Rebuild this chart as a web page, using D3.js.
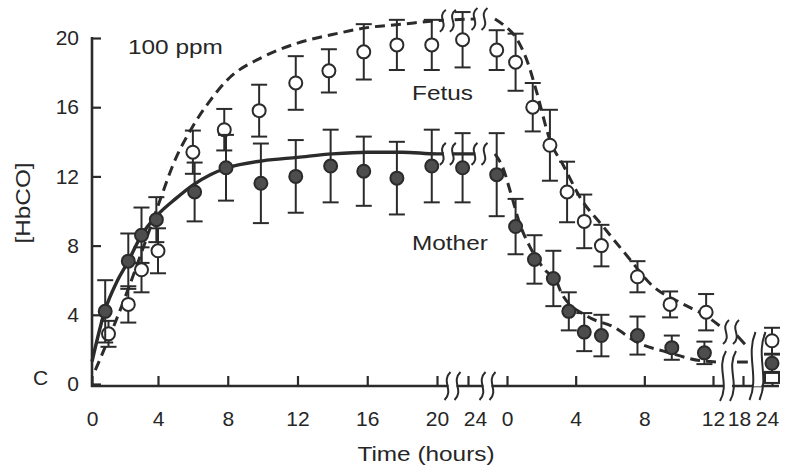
<!DOCTYPE html>
<html>
<head>
<meta charset="utf-8">
<script src="https://cdn.jsdelivr.net/npm/d3@7"></script>
<style>
  body { margin: 0; background: #fff; }
  svg { display: block; font-family: "Liberation Sans", Arial, sans-serif; }
  .axis text { font-family: "Liberation Sans", Arial, sans-serif; font-size: 21px; fill: #262626; }
  .axis line { stroke: #2b2b2b; stroke-width: 2.2; }
  .label { font-size: 21px; fill: #262626; }
</style>
</head>
<body>
<div id="chart"></div>
<script>
// values: t in hours, [HbCO] in %
const expTicks = [0, 4, 8, 12, 16, 20, 24];
const recTicks = [0, 4, 8, 12, 18, 24];
const yTicks = [0, 4, 8, 12, 16, 20];

// measured points: [t, mean, sd]
const motherExposure = [
  [0.8, 4.2, 1.8], [2.2, 7.1, 1.6], [3.0, 8.6, 1.6], [3.9, 9.5, 1.3], [6.1, 11.1, 1.7],
  [7.9, 12.5, 1.9], [9.9, 11.6, 2.3], [11.9, 12.0, 2.1], [13.9, 12.6, 2.1], [15.8, 12.3, 2.0],
  [17.7, 11.9, 2.1], [19.7, 12.6, 2.1], [23.3, 12.5, 2.0]
];
const motherRecovery = [
  [-0.6, 12.1, 2.4], [0.5, 9.1, 1.6], [1.6, 7.2, 1.4], [2.7, 6.1, 1.6], [3.6, 4.2, 1.1],
  [4.5, 3.0, 1.1], [5.5, 2.8, 1.2], [7.6, 2.8, 1.1], [9.6, 2.1, 0.7], [11.5, 1.8, 0.65],
  [24, 1.2, 0.5]
];
const fetusExposure = [
  [1.0, 2.9, 0.75], [2.2, 4.6, 1.05], [3.0, 6.6, 1.3], [4.0, 7.7, 1.3], [6.0, 13.4, 1.25],
  [7.8, 14.7, 1.2], [9.8, 15.8, 1.5], [11.9, 17.4, 1.55], [13.8, 18.1, 1.25], [15.8, 19.2, 1.6],
  [17.7, 19.6, 1.45], [19.7, 19.6, 1.45], [23.3, 19.9, 1.6]
];
const fetusRecovery = [
  [-0.6, 19.3, 1.15], [0.5, 18.6, 1.65], [1.5, 16.0, 1.4], [2.5, 13.8, 2.05], [3.5, 11.1, 1.75],
  [4.5, 9.4, 1.55], [5.5, 8.0, 1.2], [7.6, 6.2, 0.9], [9.5, 4.6, 0.75], [11.6, 4.15, 1.05],
  [24, 2.5, 0.75]
];
const controlRecovery = [[24, 0.35]];

// model curves: [t, value]
const motherExpCurve = [
  [0, 1.3], [0.8, 4.3], [1.5, 5.9], [2.2, 7.1], [3, 8.6], [4, 9.8], [5, 10.7], [6, 11.5],
  [7, 12.1], [8, 12.5], [10, 12.9], [12, 13.1], [14, 13.3], [16, 13.4], [18, 13.4], [20, 13.3],
  [25, 13.3]
];
const motherRecCurve = [
  [-0.7, 13.3], [-0.2, 12.4], [0.2, 11.1], [0.8, 9.1], [1.3, 8.0], [2.2, 6.6], [2.9, 5.9],
  [3.2, 5.2], [4.7, 3.9], [6.2, 3.3], [7.6, 2.4], [9.3, 1.85], [11.4, 1.33], [12.8, 1.27]
];
const motherTailCurve = [[16.8, 1.27], [19, 1.27]];
const fetusExpCurve = [
  [0.2, 0.8], [1, 2.6], [2, 5.0], [3, 7.6], [4, 10.3], [5, 13.0], [6, 14.9], [7, 16.4],
  [8, 17.6], [10, 18.9], [12, 19.7], [14, 20.2], [16, 20.6], [18, 20.8], [20, 21.0], [25, 21.1]
];
const fetusRecCurve = [
  [-0.7, 21.1], [-0.2, 20.75], [0.6, 19.9], [1.2, 18.6], [1.75, 16.8], [2.5, 14.1], [3.3, 12.6],
  [4.25, 10.8], [5.6, 9.1], [7.0, 7.4], [8.5, 5.65], [10.1, 4.7], [11.65, 3.9], [13.4, 3.35]
];
const fetusTailCurve = [[16.8, 2.8], [18.4, 2.3]];

const width = 788;
const height = 470;
const ink = '#2b2b2b';
const stretch = 1.16;

let xExp = d3.scaleLinear().domain([0, 4, 20, 24]).range([92, 158, 437, 468]);
let xRec = d3.scaleLinear().domain([0, 12, 18, 24]).range([507, 713, 743, 772]);
let y = d3.scaleLinear().domain([0, 20]).range([384, 38]);
const axisY = 386;

// crowded tick labels next to the breaks sit a little off their ticks
const expLabelShift = {24: 7};
const recLabelShift = {18: -4, 24: -5};

let svg = d3.select('#chart').append('svg')
  .attr('width', width)
  .attr('height', height)

svg.append('rect').attr('width', width).attr('height', height).attr('fill', '#fff')

// axes
svg.append('g')
  .classed('axis', true)
  .attr('transform', 'translate(92, 0)')
  .call(d3.axisLeft(y).tickValues(yTicks).tickSizeInner(-9).tickSizeOuter(0).tickPadding(13))
  .call(g => g.select('.domain').remove())

let xAxis = (scale, ticks) => d3.axisBottom(scale)
  .tickValues(ticks).tickSizeInner(-10).tickSizeOuter(0).tickPadding(25)

svg.append('g')
  .classed('axis', true)
  .attr('transform', `translate(0, ${axisY})`)
  .call(xAxis(xExp, expTicks))
  .call(g => g.select('.domain').remove())
  .call(g => g.selectAll('text').attr('dx', d => expLabelShift[d] || 0))

svg.append('g')
  .classed('axis', true)
  .attr('transform', `translate(0, ${axisY})`)
  .call(xAxis(xRec, recTicks))
  .call(g => g.select('.domain').remove())
  .call(g => g.selectAll('text').attr('dx', d => recLabelShift[d] || 0))

svg.append('line')
  .attr('x1', 92).attr('x2', 92).attr('y1', axisY + 1).attr('y2', y(20) - 1)
  .attr('stroke', ink).attr('stroke-width', 2.6)

svg.append('line')
  .attr('x1', 91).attr('x2', 779).attr('y1', axisY).attr('y2', axisY)
  .attr('stroke', ink).attr('stroke-width', 2.6)

// curves
let line = x => d3.line()
  .x(d => x(d[0]))
  .y(d => y(d[1]))
  .curve(d3.curveMonotoneX)

let curves = svg.append('g').attr('fill', 'none').attr('stroke', ink).attr('stroke-width', 3)

curves.append('path').attr('d', line(xExp)(motherExpCurve)).attr('stroke-width', 3.4)
curves.append('path').attr('d', line(xRec)(motherRecCurve)).attr('stroke-dasharray', '10,6')
curves.append('path').attr('d', line(xRec)(motherTailCurve))
curves.append('path').attr('d', line(xExp)(fetusExpCurve)).attr('stroke-dasharray', '10,6')
curves.append('path').attr('d', line(xRec)(fetusRecCurve)).attr('stroke-dasharray', '10,6')
curves.append('path').attr('d', line(xRec)(fetusTailCurve))

// break marks
let sPath = (x, cy, h) => {
  let top = cy - h / 2, bot = cy + h / 2;
  return `M${x + 3},${top} C${x - 7},${top + h * 0.35} ${x + 7},${bot - h * 0.35} ${x - 3},${bot}`;
}

let breakMark = (x, cy, h) => {
  let g = svg.append('g');
  g.append('rect')
    .attr('x', x - 4).attr('y', cy - h * 0.3).attr('width', 8).attr('height', h * 0.6)
    .attr('fill', '#fff')
  g.selectAll('path').data([x - 5, x + 5]).join('path')
    .attr('d', d => sPath(d, cy, h))
    .attr('fill', 'none').attr('stroke', ink).attr('stroke-width', 2)
}

let gapX = (xExp(24) + xRec(0)) / 2;
[xExp(22), gapX].forEach(x => breakMark(x, axisY, 28));
breakMark(xExp(21.4), y(21.0), 22);
breakMark(gapX - 8, y(21.1), 22);
breakMark(xExp(21.4), y(13.3), 22);
breakMark(gapX - 8, y(13.3), 22);
breakMark(xRec(15.6), y(3.0), 24);
breakMark(xRec(15), axisY - 10, 50);
breakMark(xRec(21), axisY - 20, 68);

// error bars and markers
let drawSeries = (data, x, filled) => {
  let g = svg.append('g').attr('stroke', ink).attr('stroke-width', 2);

  g.selectAll('.bar').data(data).join('line')
    .attr('x1', d => x(d[0])).attr('x2', d => x(d[0]))
    .attr('y1', d => y(d[1] - d[2])).attr('y2', d => y(d[1] + d[2]))

  g.selectAll('.cap').data(data.flatMap(d => [[d[0], d[1] - d[2]], [d[0], d[1] + d[2]]])).join('line')
    .attr('x1', d => x(d[0]) - 8).attr('x2', d => x(d[0]) + 8)
    .attr('y1', d => y(d[1])).attr('y2', d => y(d[1]))

  g.selectAll('circle').data(data).join('circle')
    .attr('cx', d => x(d[0]))
    .attr('cy', d => y(d[1]))
    .attr('r', 6.5)
    .attr('fill', filled ? '#4d4d4d' : '#fff')
}

drawSeries(fetusExposure, xExp, false);
drawSeries(fetusRecovery, xRec, false);
drawSeries(motherExposure, xExp, true);
drawSeries(motherRecovery, xRec, true);

svg.append('g').selectAll('rect').data(controlRecovery).join('rect')
  .attr('x', d => xRec(d[0]) - 7)
  .attr('y', d => y(d[1]) - 5)
  .attr('width', 14).attr('height', 10)
  .attr('fill', '#fff').attr('stroke', ink).attr('stroke-width', 2)

// labels
let label = (text, x, yPos, anchor) => svg.append('text')
  .classed('label', true)
  .attr('x', x).attr('y', yPos)
  .attr('text-anchor', anchor || 'start')
  .text(text)

let stretchText = sel => sel.each(function () {
  let w = this.getComputedTextLength();
  d3.select(this).attr('textLength', w * stretch).attr('lengthAdjust', 'spacingAndGlyphs');
})

label('100 ppm', 128, 54).call(stretchText)
label('Fetus', 412, 100).call(stretchText)
label('Mother', 412, 250).call(stretchText)
label('Time (hours)', 426, 461, 'middle').call(stretchText)
label('C', 33, 385)

svg.append('text')
  .classed('label', true)
  .attr('transform', 'translate(30, 203) rotate(-90)')
  .attr('text-anchor', 'middle')
  .text('[HbCO]')
  .call(stretchText)
</script>
</body>
</html>
